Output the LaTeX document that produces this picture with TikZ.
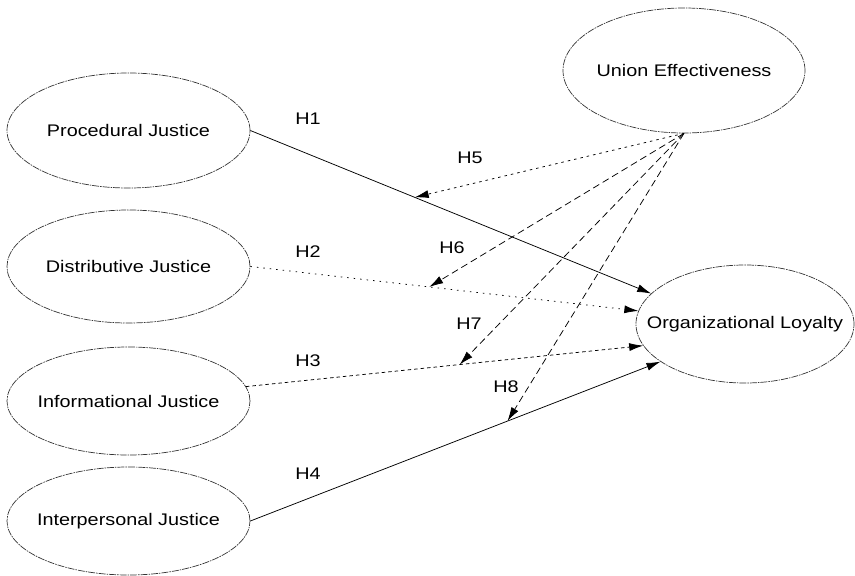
\documentclass[tikz,border=0pt]{standalone}
\usepackage{fontspec}
\setmainfont[FakeStretch=1.18]{Liberation Sans}
\usetikzlibrary{shapes.geometric,arrows.meta,calc}
\begin{document}
\begin{tikzpicture}[x=1pt,y=1pt,
  construct/.style={ellipse,draw=black!80,line width=0.7pt,
    dash pattern=on 7pt off 1pt on 1.5pt off 1pt,inner sep=0pt,
    font=\fontsize{16.8}{20}\selectfont},
  hlabel/.style={font=\fontsize{16.8}{20}\selectfont,inner sep=0pt},
  link/.style={draw=black,line width=0.75pt,
    arrows={-Latex[length=14pt,width=8pt,black]}},
  solidlink/.style={link},
  sparsedot/.style={link,dash pattern=on 1.5pt off 5pt},
  shortdash/.style={link,dash pattern=on 3.5pt off 3pt},
  dashdot/.style={link,dash pattern=on 2.5pt off 4pt},
  longdash/.style={link,dash pattern=on 7pt off 4pt}]
\useasboundingbox (0,-576) rectangle (855,0);

\node[construct,minimum width=243pt,minimum height=115pt] (proc) at (128.5,-130.5) {\makebox[0pt]{Procedural Justice}};
\node[construct,minimum width=243pt,minimum height=113pt] (dist) at (128.5,-266.5) {\makebox[0pt]{Distributive Justice}};
\node[construct,minimum width=243pt,minimum height=108pt] (info) at (128.5,-401) {\makebox[0pt]{Informational Justice}};
\node[construct,minimum width=243pt,minimum height=108pt] (inter) at (128.5,-521) {\makebox[0pt]{Interpersonal Justice}};
\node[construct,minimum width=242pt,minimum height=125pt] (union) at (684,-70.5) {\makebox[0pt]{Union Effectiveness}};
\node[construct,minimum width=218pt,minimum height=118pt] (org) at (745,-324) {\makebox[0pt]{Organizational Loyalty}};

\draw[solidlink] (proc.east) -- (org.162.5);
\draw[sparsedot] (dist.east) -- (org.173);
\draw[shortdash] (info.7.4) -- (org.192.6);
\draw[solidlink] (inter.east) -- (org.204);

\coordinate (m5) at ($(proc.east)!0.41!(org.162.5)$);
\coordinate (m6) at ($(dist.east)!0.461!(org.173)$);
\coordinate (m7) at ($(info.7.4)!0.538!(org.192.6)$);
\coordinate (m8) at ($(inter.east)!0.627!(org.204)$);

\draw[dashdot] (union.south) -- (m5);
\draw[longdash] (union.south) -- (m6);
\draw[longdash] (union.south) -- (m7);
\draw[longdash] (union.south) -- (m8);

\node[hlabel] (h1) at (308,-119) {H1};
\node[hlabel] (h2) at (308,-252) {H2};
\node[hlabel] (h3) at (308,-361) {H3};
\node[hlabel] (h4) at (308,-474) {H4};
\node[hlabel] (h5) at (470,-158) {H5};
\node[hlabel] (h6) at (452,-248) {H6};
\node[hlabel] (h7) at (469,-324) {H7};
\node[hlabel] (h8) at (506,-387) {H8};
\end{tikzpicture}
\end{document}
